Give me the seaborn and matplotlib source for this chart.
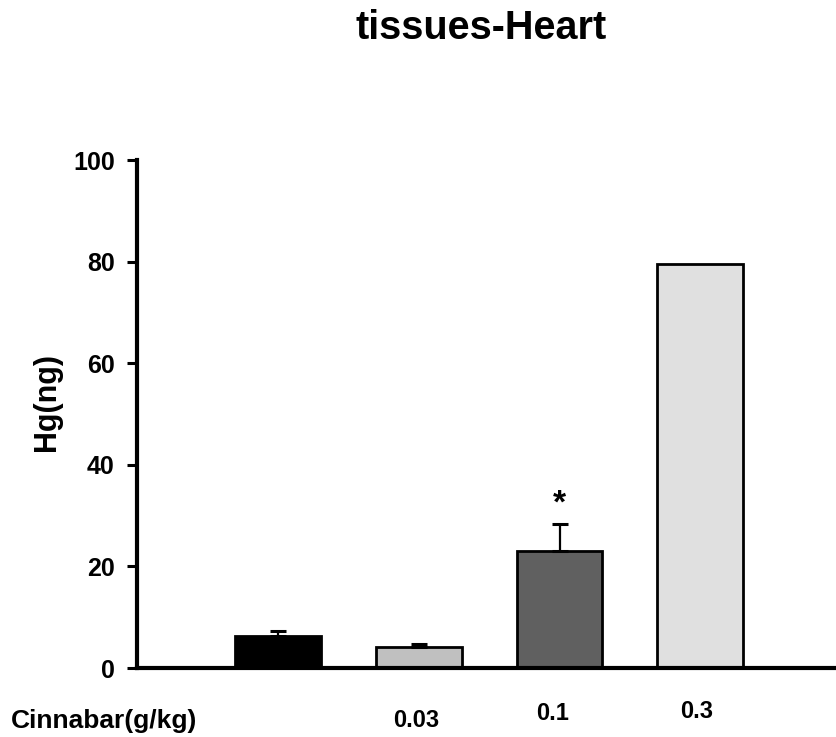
import matplotlib
matplotlib.use("Agg")
import matplotlib.pyplot as plt
import matplotlib.transforms as mtransforms
import pandas as pd
import seaborn as sns

# data
groups = ["Control", "0.03", "0.1", "0.3"]
hg_mean = [6.3, 4.1, 23.0, 79.5]
hg_err = [0.9, 0.6, 5.4, 0.0]
tick_labels = ["", "0.03", "0.1", "0.3"]
colors = ["#000000", "#c0c0c0", "#606060", "#e0e0e0"]

sns.set_style("white")
plt.rcParams["font.family"] = ["Liberation Sans", "DejaVu Sans"]
plt.rcParams["font.weight"] = "bold"
plt.rcParams["text.color"] = "black"
plt.rcParams["ytick.color"] = "black"
plt.rcParams["axes.labelcolor"] = "black"

df = pd.DataFrame({"group": groups, "hg": hg_mean, "err": hg_err})
df["x"] = range(len(groups))

fig = plt.figure(figsize=(8.37, 7.37), dpi=100)
ax = fig.add_axes([0.1637, 0.0936, 0.8363, 0.6893])

sns.barplot(
    data=df,
    x="group",
    y="hg",
    hue="group",
    order=groups,
    hue_order=groups,
    palette=colors,
    width=0.61,
    edgecolor="black",
    linewidth=2.0,
    errorbar=None,
    legend=False,
    ax=ax,
)

# upper-only error bars (the 0.3 group has none)
eb = df[df["err"] > 0]
ax.errorbar(
    eb["x"],
    eb["hg"],
    yerr=[[0] * len(eb), eb["err"]],
    fmt="none",
    ecolor="black",
    elinewidth=1.6,
    capsize=6,
    capthick=2.2,
    zorder=1,
)

# significance mark over the 0.1 g/kg group
ax.text(2, hg_mean[2] + hg_err[2] + 0.8, "*", ha="center", va="bottom",
        fontsize=24, fontweight="bold")

ax.set_xlim(-1.0, 3.97)
ax.set_ylim(0, 100)
ax.set_yticks([0, 20, 40, 60, 80, 100])
ax.tick_params(axis="y", direction="out", length=7, width=2.2, labelsize=18, pad=9,
               left=True, colors="black")
ax.tick_params(axis="x", bottom=False, labelbottom=False)
for lab in ax.get_yticklabels():
    lab.set_fontweight("bold")

for side in ["top", "right"]:
    ax.spines[side].set_visible(False)
for side in ["left", "bottom"]:
    ax.spines[side].set_linewidth(3)
    ax.spines[side].set_color("black")

ax.set_xlabel("")
ax.set_ylabel("")
fig.text(47 / 837, 1 - 402 / 737, "Hg(ng)", rotation=90, ha="center", va="center",
         fontsize=22, fontweight="bold")

# x labels sit at slightly different spots in the reference
trans = mtransforms.blended_transform_factory(ax.transData, ax.transAxes)
label_offsets = [(0, 0), (-2, -38), (-5, -33), (-3, -31)]
for x, lab, (dx, dy) in zip(df["x"], tick_labels, label_offsets):
    if lab:
        ax.annotate(lab, xy=(x, 0), xycoords=trans, xytext=(dx, dy),
                    textcoords="offset points", ha="center", va="center",
                    fontsize=17, fontweight="bold")
fig.text(0.013, 0.0217, "Cinnabar(g/kg)", ha="left", va="center",
         fontsize=19, fontweight="bold")

fig.text(0.575, 0.962, "tissues-Heart", ha="center", va="center",
         fontsize=28.5, fontweight="bold")

fig.savefig("out.png", dpi=100)
